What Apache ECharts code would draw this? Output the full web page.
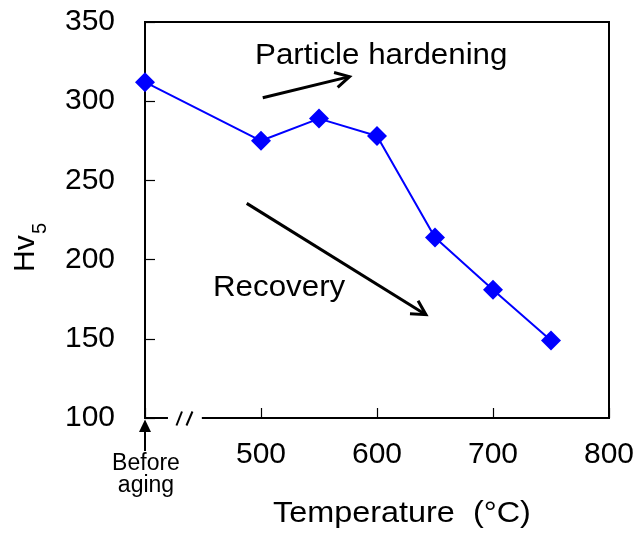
<!DOCTYPE html>
<html>
<head>
<meta charset="utf-8">
<script src="https://cdn.jsdelivr.net/npm/echarts@6/dist/echarts.min.js"></script>
<style>
  html, body { margin: 0; padding: 0; background: #fff; }
  #chart { width: 638px; height: 536px; }
</style>
</head>
<body>
<div id="chart"></div>
<script>
// Aging temperature (°C); 400 stands in for the "Before aging" sample
const temperatures = [400, 500, 550, 600, 650, 700, 750];
// Vickers hardness Hv5
const hardness = [312, 275, 289, 278, 214, 181, 149];
// Axis ticks
const xTicks = [400, 500, 600, 700, 800];
const yTicks = [100, 150, 200, 250, 300, 350];

const FONT = '"Liberation Sans", Arial, sans-serif';
const WIDE = 1.08; // slightly widened lettering for the annotations
const chart = echarts.init(document.getElementById('chart'), null, { renderer: 'canvas' });

const option = {
  animation: false,
  backgroundColor: '#fff',
  grid: {
    left: 145, right: 29, top: 22, bottom: 118,
    show: true, borderColor: '#000', borderWidth: 2, backgroundColor: 'transparent'
  },
  xAxis: {
    type: 'value',
    min: xTicks[0], max: xTicks[xTicks.length - 1], interval: 100,
    axisLine: { show: true, lineStyle: { color: '#000', width: 2 } },
    axisTick: { show: true, inside: true, length: 10, lineStyle: { color: '#000', width: 1.2 } },
    splitLine: { show: false },
    axisLabel: {
      margin: 22, color: '#000', fontSize: 30, fontFamily: FONT,
      formatter: v => (v === xTicks[0] ? '' : String(v))
    }
  },
  yAxis: {
    type: 'value',
    min: yTicks[0], max: yTicks[yTicks.length - 1], interval: 50,
    axisLine: { show: true, lineStyle: { color: '#000', width: 2 } },
    axisTick: { show: true, inside: true, length: 10, lineStyle: { color: '#000', width: 1.2 } },
    splitLine: { show: false },
    axisLabel: { margin: 30, color: '#000', fontSize: 30, fontFamily: FONT }
  },
  series: [{
    type: 'line',
    data: temperatures.map((t, i) => [t, hardness[i]]),
    symbol: 'diamond',
    symbolSize: 20,
    itemStyle: { color: '#0000ff' },
    lineStyle: { color: '#0000ff', width: 2 },
    z: 5
  }]
};
chart.setOption(option);

// Annotation arrows and labels, anchored in data space
function px(x, y) { return chart.convertToPixel({ gridIndex: 0 }, [x, y]); }

function openArrow(from, to, width, head) {
  const a = px(from[0], from[1]);
  const b = px(to[0], to[1]);
  const ang = Math.atan2(b[1] - a[1], b[0] - a[0]);
  const spread = 0.5;
  const h1 = [b[0] - head * Math.cos(ang - spread), b[1] - head * Math.sin(ang - spread)];
  const h2 = [b[0] - head * Math.cos(ang + spread), b[1] - head * Math.sin(ang + spread)];
  return [
    { type: 'polyline', z: 50, shape: { points: [a, b] }, style: { stroke: '#000', lineWidth: width, fill: null } },
    { type: 'polyline', z: 50, shape: { points: [h1, b, h2] }, style: { stroke: '#000', lineWidth: width, fill: null, lineJoin: 'miter' } }
  ];
}

function label(text, x, y, size, extra) {
  return Object.assign({ type: 'text', z: 50, x: x, y: y, scaleX: WIDE,
    style: Object.assign({ text: text, fill: '#000', fontSize: size, fontFamily: FONT, align: 'left', verticalAlign: 'middle' }, extra || {}) });
}

const axisY = px(400, 100)[1];
const originX = px(400, 100)[0];
const gapL = px(419.8, 100)[0];
const gapR = px(449, 100)[0];

const graphics = [];
// Particle hardening arrow
graphics.push(...openArrow([501.5, 302.2], [576.3, 315.5], 3, 16));
// Recovery arrow
graphics.push(...openArrow([487.7, 235.5], [642.2, 165.2], 3, 16));

graphics.push(
  label('Particle hardening', 255, 56, 29),
  label('Recovery', 213, 288, 29),
  // Break in the temperature axis
  { type: 'rect', z: 40, shape: { x: gapL, y: axisY - 3, width: gapR - gapL, height: 6 }, style: { fill: '#fff' } },
  { type: 'line', z: 50, shape: { x1: gapL + 8.5, y1: axisY + 7.5, x2: gapL + 14, y2: axisY - 6.5 }, style: { stroke: '#000', lineWidth: 2 } },
  { type: 'line', z: 50, shape: { x1: gapL + 18.5, y1: axisY + 7.5, x2: gapL + 24.5, y2: axisY - 6.5 }, style: { stroke: '#000', lineWidth: 2 } },
  // Marker for the un-aged sample
  { type: 'line', z: 50, shape: { x1: originX, y1: axisY + 33, x2: originX, y2: axisY + 12 }, style: { stroke: '#000', lineWidth: 2 } },
  { type: 'polygon', z: 50, shape: { points: [[originX, axisY + 1.5], [originX - 6, axisY + 14], [originX + 6, axisY + 14]] }, style: { fill: '#000' } },
  { type: 'text', z: 50, x: originX + 1, y: axisY + 35,
    style: { text: 'Before\naging', fill: '#000', fontSize: 23, lineHeight: 22, fontFamily: FONT, align: 'center', verticalAlign: 'top' } },
  // Axis titles
  label('Temperature  (°C)', 273, 514, 30),
  { type: 'text', z: 50, x: 26, y: 272, rotation: Math.PI / 2,
    style: { text: 'Hv', fill: '#000', fontSize: 30, fontFamily: FONT, align: 'left', verticalAlign: 'middle' } },
  { type: 'text', z: 50, x: 40, y: 234, rotation: Math.PI / 2,
    style: { text: '5', fill: '#000', fontSize: 20, fontFamily: FONT, align: 'left', verticalAlign: 'middle' } }
);

chart.setOption({ graphic: graphics });
</script>
</body>
</html>
